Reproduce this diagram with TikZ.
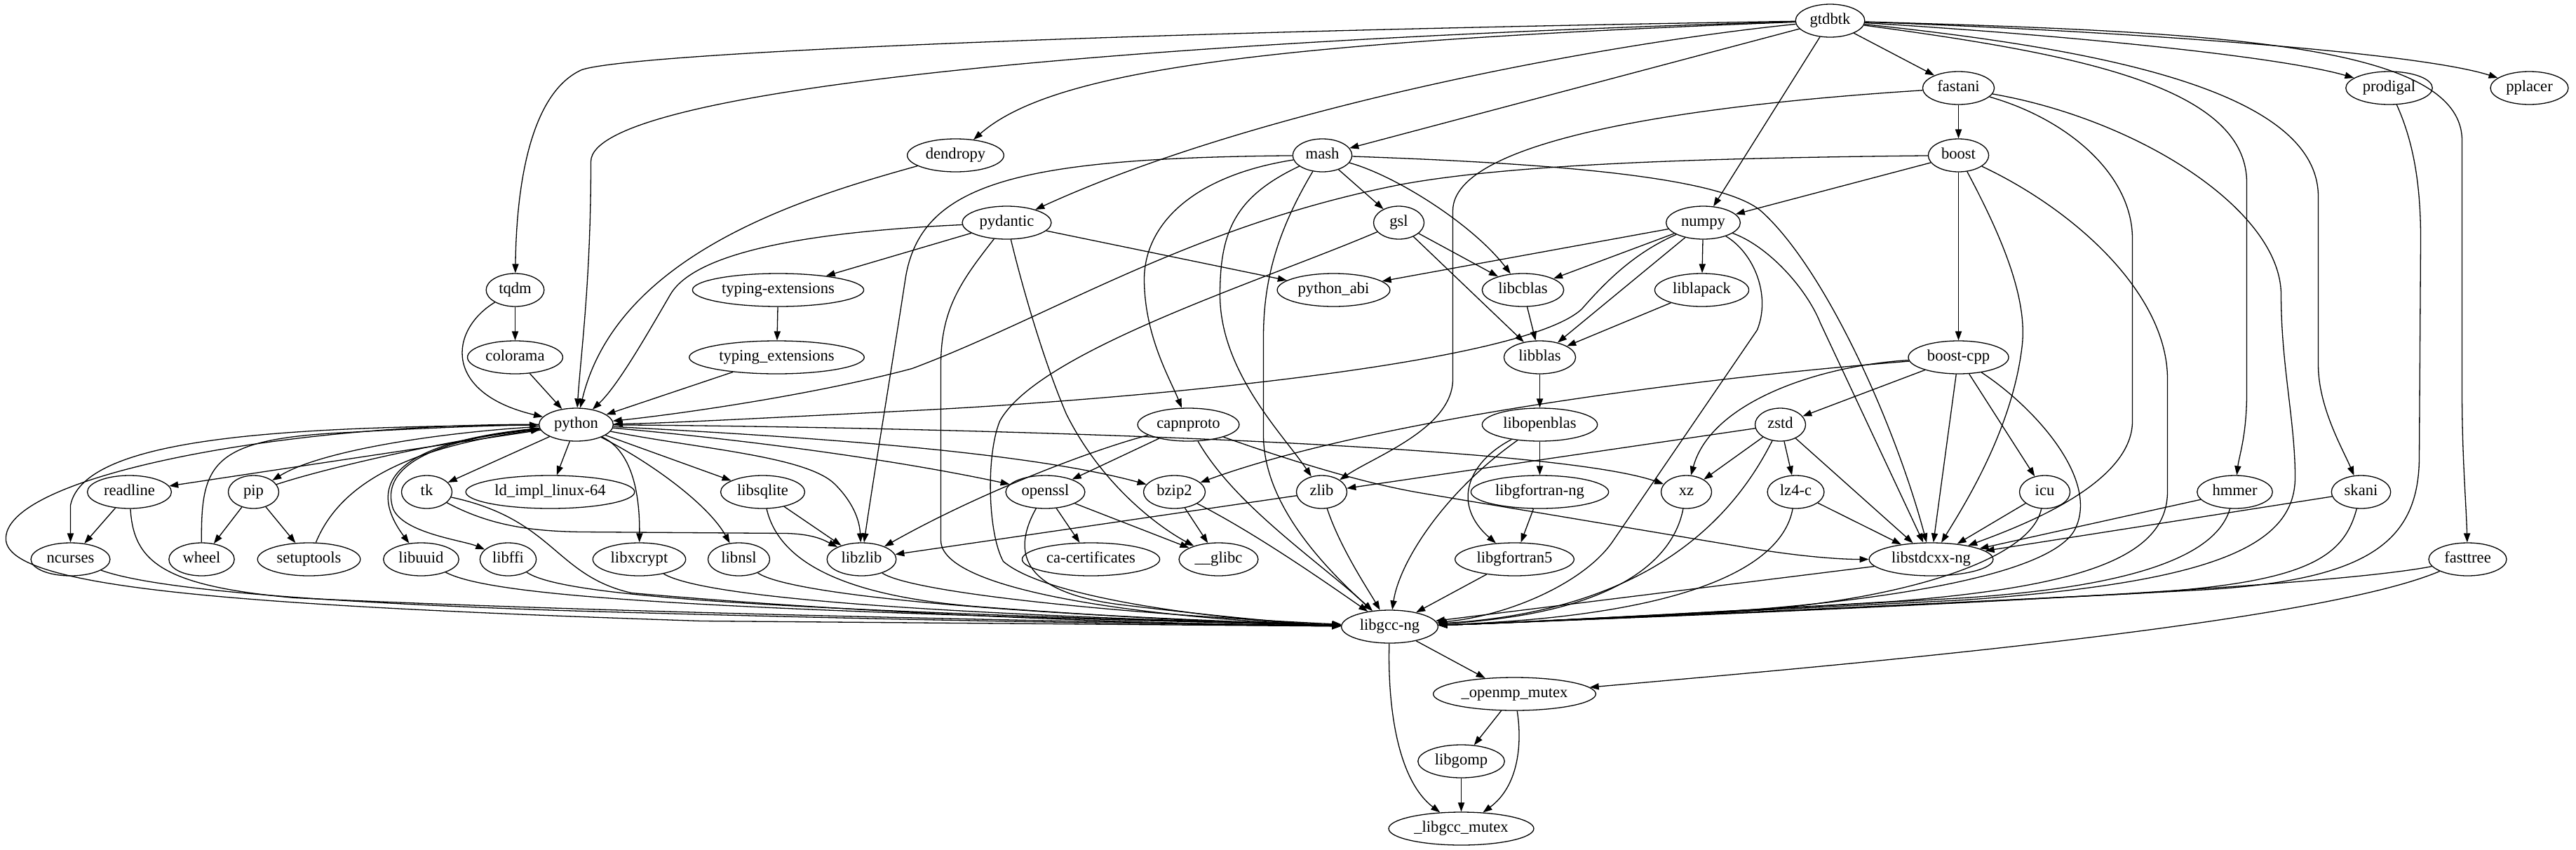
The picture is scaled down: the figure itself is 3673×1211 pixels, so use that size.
\documentclass[tikz,border=0pt]{standalone}
\usepackage{fontspec}
\setmainfont{Liberation Serif}
\usetikzlibrary{arrows.meta,shapes.geometric}
\tikzset{
  nd/.style={draw, ellipse, line width=0.65pt, minimum height=23.5pt, minimum width=36pt,
    inner xsep=3pt, inner ysep=0pt, font=\fontsize{11.3}{13}\selectfont,
    text height=7.5pt, text depth=2.5pt},
  ed/.style={line width=0.65pt, -{Triangle[length=6.5pt,width=4.6pt]}}
}
\begin{document}
\begin{tikzpicture}[x=0.5pt,y=-0.5pt]
\useasboundingbox (0,0) rectangle (3673,1211);
\begin{scope}[shift={(0.5,0.5)}]
% nodes
\node[nd] (gtdbtk) at (2609,29) {gtdbtk};
\node[nd] (fastani) at (2792,125) {fastani};
\node[nd] (prodigal) at (3406,125) {prodigal};
\node[nd] (pplacer) at (3606,125) {pplacer};
\node[nd] (dendropy) at (1362,221) {dendropy};
\node[nd] (mash) at (1885,221) {mash};
\node[nd] (boost) at (2792,221) {boost};
\node[nd] (pydantic) at (1435,317) {pydantic};
\node[nd] (gsl) at (1994,317) {gsl};
\node[nd] (numpy) at (2428,317) {numpy};
\node[nd] (tqdm) at (734,413) {tqdm};
\node[nd] (typingdash) at (1109,413) {typing-extensions};
\node[nd] (pythonabi) at (1901,413) {python\_abi};
\node[nd] (libcblas) at (2171,413) {libcblas};
\node[nd] (liblapack) at (2426,413) {liblapack};
\node[nd] (colorama) at (734,509) {colorama};
\node[nd] (typingus) at (1107,509) {typing\_extensions};
\node[nd] (libblas) at (2195,509) {libblas};
\node[nd] (boostcpp) at (2792,509) {boost-cpp};
\node[nd] (python) at (821,605) {python};
\node[nd] (capnproto) at (1694,605) {capnproto};
\node[nd] (libopenblas) at (2195,605) {libopenblas};
\node[nd] (zstd) at (2538,605) {zstd};
\node[nd] (readline) at (184,701) {readline};
\node[nd] (pip) at (361,701) {pip};
\node[nd] (tk) at (608,701) {tk};
\node[nd] (ldimpl) at (784,701) {ld\_impl\_linux-64};
\node[nd] (libsqlite) at (1087,701) {libsqlite};
\node[nd] (openssl) at (1490,701) {openssl};
\node[nd] (bzip2) at (1674,701) {bzip2};
\node[nd] (zlib) at (1884,701) {zlib};
\node[nd] (libgfortranng) at (2195,701) {libgfortran-ng};
\node[nd] (xz) at (2404,701) {xz};
\node[nd] (lzfourc) at (2560,701) {lz4-c};
\node[nd] (icu) at (2915,701) {icu};
\node[nd] (hmmer) at (3186,701) {hmmer};
\node[nd] (skani) at (3366,701) {skani};
\node[nd] (ncurses) at (100,797) {ncurses};
\node[nd] (wheel) at (287,797) {wheel};
\node[nd] (setuptools) at (440,797) {setuptools};
\node[nd] (libuuid) at (600,797) {libuuid};
\node[nd] (libffi) at (724,797) {libffi};
\node[nd] (libxcrypt) at (911,797) {libxcrypt};
\node[nd] (libnsl) at (1053,797) {libnsl};
\node[nd] (libzlib) at (1228,797) {libzlib};
\node[nd] (cacert) at (1555,797) {ca-certificates};
\node[nd] (glibc) at (1737,797) {\_\_glibc};
\node[nd] (libgfortranfive) at (2159,797) {libgfortran5};
\node[nd] (libstdcxx) at (2753,797) {libstdcxx-ng};
\node[nd] (fasttree) at (3518,797) {fasttree};
\node[nd] (libgcc) at (1981,893) {libgcc-ng};
\node[nd] (openmp) at (2159,989) {\_openmp\_mutex};
\node[nd] (libgomp) at (2083,1085) {libgomp};
\node[nd] (libgccmutex) at (2083,1181) {\_libgcc\_mutex};
% gtdbtk
\draw[ed] (gtdbtk) .. controls (1600,45) and (900,75) .. (829,99) .. controls (760,130) and (736,250) .. (tqdm);
\draw[ed] (gtdbtk) .. controls (1700,55) and (842,120) .. (842,230) .. controls (842,400) and (828,500) .. (python);
\draw[ed] (gtdbtk) .. controls (1800,60) and (1500,100) .. (dendropy);
\draw[ed] (gtdbtk) .. controls (2300,60) and (1800,150) .. (pydantic);
\draw[ed] (gtdbtk) -- (mash);
\draw[ed] (gtdbtk) -- (numpy);
\draw[ed] (gtdbtk) -- (fastani);
\draw[ed] (gtdbtk) .. controls (2950,50) and (3250,80) .. (prodigal);
\draw[ed] (gtdbtk) .. controls (3050,45) and (3450,75) .. (pplacer);
\draw[ed] (gtdbtk) .. controls (2950,75) and (3203,120) .. (3203,260) -- (3203,560) .. controls (3203,620) and (3192,650) .. (hmmer);
\draw[ed] (gtdbtk) .. controls (3000,70) and (3305,130) .. (3305,280) -- (3305,520) .. controls (3305,580) and (3340,640) .. (skani);
\draw[ed] (gtdbtk) .. controls (3150,45) and (3510,60) .. (3510,200) -- (3510,560) .. controls (3510,650) and (3516,720) .. (fasttree);
% fastani
\draw[ed] (fastani) -- (boost);
\draw[ed] (fastani) .. controls (2400,150) and (2071,200) .. (2071,300) -- (2071,540) .. controls (2071,610) and (1960,650) .. (zlib);
\draw[ed] (fastani) .. controls (2950,170) and (3040,250) .. (3040,340) -- (3040,600) .. controls (3040,690) and (2880,750) .. (libstdcxx);
\draw[ed] (fastani) .. controls (3050,170) and (3252,300) .. (3252,420) .. controls (3252,520) and (3272,600) .. (3272,680) .. controls (3272,780) and (3150,830) .. (2800,855) .. controls (2400,875) and (2150,888) .. (libgcc);
% boost
\draw[ed] (boost) -- (boostcpp);
\draw[ed] (boost) -- (numpy);
\draw[ed] (boost) .. controls (2400,225) and (2150,235) .. (2000,262) .. controls (1700,320) and (1500,450) .. (1300,525) .. controls (1150,565) and (950,592) .. (python);
\draw[ed] (boost) .. controls (2850,330) and (2890,420) .. (2883,490) .. controls (2870,610) and (2800,720) .. (libstdcxx);
\draw[ed] (boost) .. controls (2960,300) and (3090,420) .. (3090,540) -- (3090,700) .. controls (3090,790) and (2980,835) .. (2700,857) .. controls (2400,875) and (2150,888) .. (libgcc);
% prodigal
\draw[ed] (prodigal) .. controls (3440,200) and (3451,260) .. (3451,340) -- (3449,650) .. controls (3449,770) and (3380,825) .. (3150,840) .. controls (2700,865) and (2150,888) .. (libgcc);
% numpy
\draw[ed] (numpy) -- (pythonabi);
\draw[ed] (numpy) -- (libcblas);
\draw[ed] (numpy) -- (liblapack);
\draw[ed] (numpy) -- (libblas);
\draw[ed] (numpy) .. controls (2330,360) and (2290,400) .. (2255,440) .. controls (2170,520) and (1600,570) .. (1300,585) .. controls (1100,595) and (950,603) .. (python);
\draw[ed] (numpy) .. controls (2500,360) and (2525,420) .. (2505,470) -- (2300,770) .. controls (2260,830) and (2150,878) .. (libgcc);
\draw[ed] (numpy) .. controls (2520,350) and (2575,410) .. (2595,460) -- (libstdcxx);
% mash
\draw[ed] (mash) -- (gsl);
\draw[ed] (mash) .. controls (1990,250) and (2100,320) .. (libcblas);
\draw[ed] (mash) .. controls (1700,250) and (1630,320) .. (1631,400) .. controls (1632,480) and (1668,540) .. (capnproto);
\draw[ed] (mash) .. controls (1760,280) and (1739,330) .. (1739,420) .. controls (1739,530) and (1830,620) .. (zlib);
\draw[ed] (mash) .. controls (1820,330) and (1801,400) .. (1801,480) -- (1801,620) .. controls (1801,720) and (1890,810) .. (libgcc);
\draw[ed] (mash) .. controls (1450,225) and (1310,260) .. (1290,400) .. controls (1270,530) and (1245,680) .. (libzlib);
\draw[ed] (mash) .. controls (2200,232) and (2450,250) .. (2510,300) .. controls (2600,380) and (2700,600) .. (libstdcxx);
% gsl
\draw[ed] (gsl) -- (libcblas);
\draw[ed] (gsl) -- (libblas);
\draw[ed] (gsl) .. controls (1800,400) and (1480,500) .. (1425,600) .. controls (1405,650) and (1408,760) .. (1430,800) .. controls (1500,860) and (1800,888) .. (libgcc);
% pydantic
\draw[ed] (pydantic) -- (typingdash);
\draw[ed] (pydantic) -- (pythonabi);
\draw[ed] (pydantic) .. controls (1200,328) and (995,350) .. (955,420) .. controls (920,480) and (880,550) .. (python);
\draw[ed] (pydantic) .. controls (1370,400) and (1341,440) .. (1341,520) -- (1341,770) .. controls (1341,850) and (1700,885) .. (libgcc);
\draw[ed] (pydantic) .. controls (1460,420) and (1490,520) .. (1520,590) .. controls (1570,690) and (1650,750) .. (glibc);
% dendropy, tqdm, typing
\draw[ed] (dendropy) .. controls (1150,280) and (880,360) .. (python);
\draw[ed] (tqdm) -- (colorama);
\draw[ed] (tqdm) .. controls (640,470) and (630,560) .. (python);
\draw[ed] (colorama) -- (python);
\draw[ed] (typingdash) -- (typingus);
\draw[ed] (typingus) -- (python);
% blas
\draw[ed] (libcblas) -- (libblas);
\draw[ed] (liblapack) -- (libblas);
\draw[ed] (libblas) -- (libopenblas);
\draw[ed] (libopenblas) -- (libgfortranng);
\draw[ed] (libopenblas) .. controls (2090,660) and (2070,720) .. (libgfortranfive);
\draw[ed] (libopenblas) .. controls (2060,700) and (1995,800) .. (libgcc);
\draw[ed] (libgfortranng) -- (libgfortranfive);
\draw[ed] (libgfortranfive) -- (libgcc);
% boost-cpp
\draw[ed] (boostcpp) -- (zstd);
\draw[ed] (boostcpp) -- (icu);
\draw[ed] (boostcpp) -- (libstdcxx);
\draw[ed] (boostcpp) .. controls (2600,520) and (2440,570) .. (xz);
\draw[ed] (boostcpp) .. controls (2400,540) and (1950,600) .. (bzip2);
\draw[ed] (boostcpp) .. controls (2900,580) and (2990,680) .. (2960,750) .. controls (2930,830) and (2600,865) .. (2400,875) .. controls (2250,882) and (2150,888) .. (libgcc);
% zstd etc
\draw[ed] (zstd) -- (xz);
\draw[ed] (zstd) -- (lzfourc);
\draw[ed] (zstd) -- (libstdcxx);
\draw[ed] (zstd) -- (zlib);
\draw[ed] (zstd) .. controls (2470,740) and (2350,870) .. (libgcc);
\draw[ed] (xz) .. controls (2385,800) and (2300,875) .. (libgcc);
\draw[ed] (lzfourc) -- (libstdcxx);
\draw[ed] (lzfourc) .. controls (2540,810) and (2400,878) .. (libgcc);
\draw[ed] (icu) -- (libstdcxx);
\draw[ed] (icu) .. controls (2895,800) and (2700,860) .. (2450,873) .. controls (2250,882) and (2150,888) .. (libgcc);
\draw[ed] (libstdcxx) -- (libgcc);
\draw[ed] (hmmer) -- (libstdcxx);
\draw[ed] (hmmer) .. controls (3160,790) and (3050,835) .. (2800,852) .. controls (2450,872) and (2150,888) .. (libgcc);
\draw[ed] (skani) -- (libstdcxx);
\draw[ed] (skani) .. controls (3340,800) and (3280,835) .. (3000,848) .. controls (2600,868) and (2150,888) .. (libgcc);
\draw[ed] (fasttree) .. controls (3300,840) and (2500,875) .. (libgcc);
\draw[ed] (fasttree) .. controls (3300,890) and (2600,950) .. (openmp);
% capnproto
\draw[ed] (capnproto) -- (openssl);
\draw[ed] (capnproto) .. controls (1560,640) and (1400,700) .. (libzlib);
\draw[ed] (capnproto) .. controls (1760,720) and (1880,800) .. (libgcc);
\draw[ed] (capnproto) .. controls (1850,660) and (1950,690) .. (2029,703) -- (2500,782) .. controls (2600,798) and (2650,797) .. (libstdcxx);
% openssl, bzip2, zlib
\draw[ed] (openssl) -- (cacert);
\draw[ed] (openssl) -- (glibc);
\draw[ed] (openssl) .. controls (1440,790) and (1460,845) .. (1600,862) .. controls (1750,880) and (1850,889) .. (libgcc);
\draw[ed] (bzip2) -- (glibc);
\draw[ed] (bzip2) .. controls (1790,760) and (1890,830) .. (libgcc);
\draw[ed] (zlib) -- (libzlib);
\draw[ed] (zlib) .. controls (1910,780) and (1950,840) .. (libgcc);
% python
\draw[ed] (python) -- (readline);
\draw[ed] (python) .. controls (640,615) and (460,640) .. (pip);
\draw[ed] (pip) .. controls (470,665) and (650,625) .. (python);
\draw[ed] (python) -- (tk);
\draw[ed] (python) -- (ldimpl);
\draw[ed] (python) -- (libsqlite);
\draw[ed] (python) .. controls (895,640) and (912,690) .. (libxcrypt);
\draw[ed] (python) .. controls (930,660) and (1010,720) .. (libnsl);
\draw[ed] (python) .. controls (1000,640) and (1150,650) .. (1190,690) .. controls (1215,715) and (1225,740) .. (libzlib);
\draw[ed] (python) .. controls (1100,630) and (1300,660) .. (openssl);
\draw[ed] (python) .. controls (1100,620) and (1450,640) .. (bzip2);
\draw[ed] (python) .. controls (1300,608) and (2200,630) .. (xz);
\draw[ed] (python) .. controls (400,603) and (0,680) .. (8,770) .. controls (15,835) and (300,862) .. (1000,885) -- (libgcc);
\draw[ed] (python) .. controls (420,608) and (120,620) .. (100,720) -- (ncurses);
\draw[ed] (python) .. controls (560,630) and (520,690) .. (libuuid);
\draw[ed] (python) .. controls (580,630) and (545,680) .. (560,725) .. controls (575,760) and (660,770) .. (libffi);
\draw[ed] (readline) -- (ncurses);
\draw[ed] (readline) .. controls (190,800) and (230,835) .. (420,852) .. controls (900,875) and (1600,887) .. (libgcc);
\draw[ed] (ncurses) .. controls (220,840) and (450,858) .. (800,870) .. controls (1300,885) and (1700,890) .. (libgcc);
\draw[ed] (pip) -- (wheel);
\draw[ed] (pip) -- (setuptools);
\draw[ed] (wheel) .. controls (286,660) and (300,625) .. (497,616) .. controls (600,610) and (700,606) .. (python);
\draw[ed] (setuptools) .. controls (480,700) and (560,640) .. (python);
\draw[ed] (tk) .. controls (700,750) and (760,757) .. (829,758) -- (1120,760) .. controls (1160,761) and (1175,770) .. (libzlib);
\draw[ed] (tk) .. controls (790,740) and (790,820) .. (900,845) .. controls (1300,880) and (1700,890) .. (libgcc);
\draw[ed] (libuuid) .. controls (700,850) and (1000,870) .. (libgcc);
\draw[ed] (libffi) .. controls (800,850) and (1100,870) .. (libgcc);
\draw[ed] (libxcrypt) .. controls (1000,850) and (1300,875) .. (libgcc);
\draw[ed] (libnsl) .. controls (1120,845) and (1400,875) .. (libgcc);
\draw[ed] (libsqlite) -- (libzlib);
\draw[ed] (libsqlite) .. controls (1110,800) and (1200,850) .. (1400,865) .. controls (1600,880) and (1800,890) .. (libgcc);
\draw[ed] (libzlib) .. controls (1300,845) and (1600,875) .. (libgcc);
% bottom
\draw[ed] (libgcc) -- (openmp);
\draw[ed] (libgcc) .. controls (1978,1000) and (1990,1110) .. (libgccmutex);
\draw[ed] (openmp) -- (libgomp);
\draw[ed] (openmp) .. controls (2170,1060) and (2165,1120) .. (libgccmutex);
\draw[ed] (libgomp) -- (libgccmutex);
\end{scope}
\end{tikzpicture}
\end{document}
